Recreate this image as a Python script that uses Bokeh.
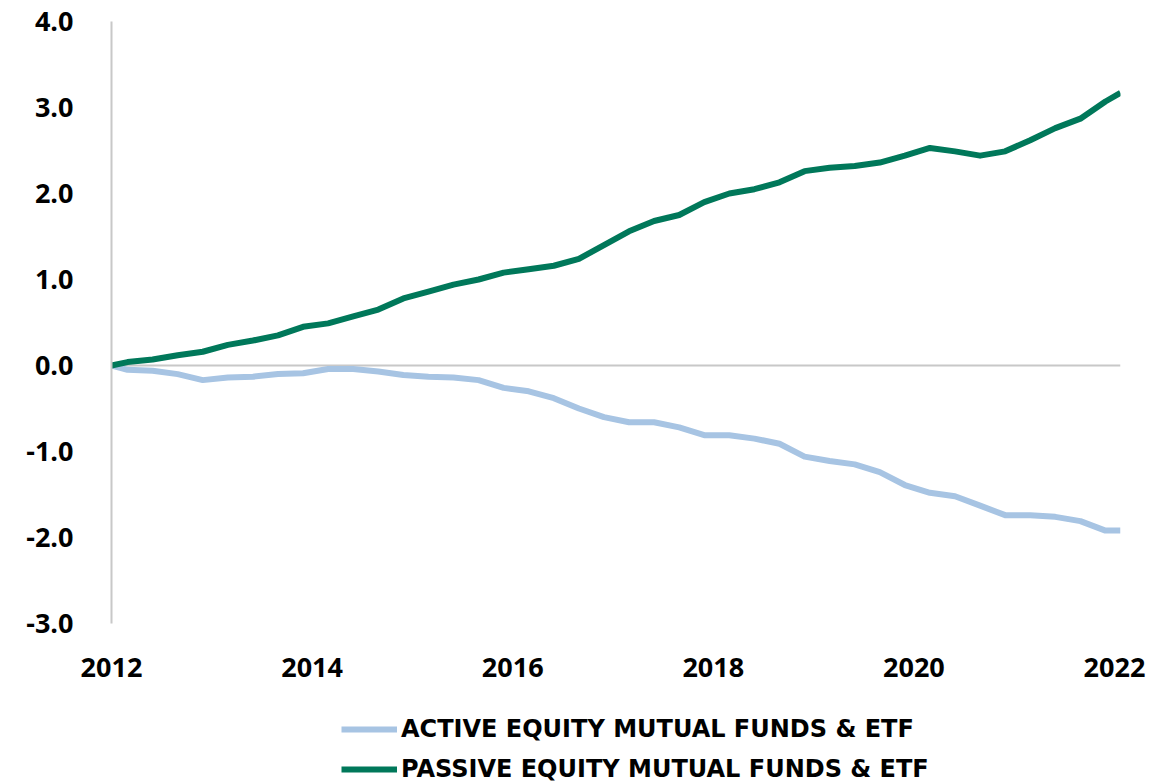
from bokeh.plotting import figure
from bokeh.models import Span, Legend, LegendItem, FixedTicker
from bokeh.layouts import column
from bokeh.embed import file_html
from bokeh.resources import INLINE

# time positions (decimal years): start point, quarterly observations, last point
x_years = [2012.0] + [round(2012.16 + 0.25 * i, 2) for i in range(40)] + [2022.06]

passive = [0, 0.04, 0.07, 0.12, 0.16, 0.24, 0.29, 0.35, 0.45, 0.49, 0.57, 0.65,
           0.78, 0.86, 0.94, 1.00, 1.08, 1.12, 1.16, 1.24, 1.40, 1.56, 1.68, 1.75,
           1.90, 2.00, 2.05, 2.13, 2.26, 2.30, 2.32, 2.36, 2.44, 2.53, 2.49, 2.44,
           2.49, 2.62, 2.76, 2.87, 3.07, 3.17]

active = [0, -0.05, -0.06, -0.10, -0.17, -0.14, -0.13, -0.10, -0.09, -0.04, -0.04,
          -0.07, -0.11, -0.13, -0.14, -0.17, -0.26, -0.30, -0.38, -0.50, -0.60,
          -0.66, -0.66, -0.72, -0.81, -0.81, -0.85, -0.91, -1.06, -1.11, -1.15,
          -1.24, -1.39, -1.48, -1.52, -1.63, -1.74, -1.74, -1.76, -1.81, -1.92, -1.92]

series_names = ["ACTIVE EQUITY MUTUAL FUNDS & ETF", "PASSIVE EQUITY MUTUAL FUNDS & ETF"]

x_ticks = [2012, 2014, 2016, 2018, 2020, 2022]
x_tick_labels = ["2012", "2014", "2016", "2018", "2020", "2022"]
y_ticks = [-3, -2, -1, 0, 1, 2, 3, 4]
y_tick_labels = ["-3.0", "-2.0", "-1.0", "0.0", "1.0", "2.0", "3.0", "4.0"]

GREEN = "#00785A"
BLUE = "#A7C4E3"
GRAY = "#C8C8C8"
FONT = "Open Sans"

p = figure(width=1175, height=700, output_backend="svg", toolbar_location=None,
           x_range=(x_years[0], x_years[-1]), y_range=(y_ticks[0], y_ticks[-1]),
           min_border_left=111, min_border_right=55, min_border_top=21,
           min_border_bottom=77, outline_line_color=None)

p.xgrid.visible = False
p.ygrid.visible = False

zero = Span(location=0, dimension="width", line_color=GRAY, line_width=2, level="underlay")
p.add_layout(zero)

p.line(x_years, active, line_color=BLUE, line_width=6, line_join="round")
p.line(x_years, passive, line_color=GREEN, line_width=6, line_join="round")

p.xaxis.ticker = FixedTicker(ticks=x_ticks)
p.xaxis.major_label_overrides = dict(zip(x_ticks, x_tick_labels))
p.yaxis.ticker = FixedTicker(ticks=y_ticks)
p.yaxis.major_label_overrides = dict(zip(y_ticks, y_tick_labels))

for ax in (p.xaxis, p.yaxis):
    ax.major_tick_line_color = None
    ax.minor_tick_line_color = None
    ax.major_label_text_font = FONT
    ax.major_label_text_font_style = "bold"
    ax.major_label_text_font_size = "27px"
    ax.major_label_text_color = "#000000"

p.xaxis.axis_line_color = None
p.xaxis.major_label_standoff = 28
p.yaxis.axis_line_color = GRAY
p.yaxis.axis_line_width = 2
p.yaxis.major_label_standoff = 32

# legend panel below the chart (legend proxies use the same data, kept off-frame)
pl = figure(width=1175, height=84, output_backend="svg", toolbar_location=None,
            x_axis_type=None, y_axis_type=None, min_border=0,
            outline_line_color=None, x_range=(0, 1), y_range=(10, 11))
pl.xgrid.visible = False
pl.ygrid.visible = False
la = pl.line(x_years, active, line_color=BLUE, line_width=6)
lp = pl.line(x_years, passive, line_color=GREEN, line_width=6)

legend = Legend(items=[LegendItem(label=series_names[0], renderers=[la]),
                       LegendItem(label=series_names[1], renderers=[lp])],
                location=(230, -5), orientation="vertical",
                border_line_color=None, background_fill_alpha=0,
                padding=0, margin=0, spacing=0,
                glyph_width=56, glyph_height=40, label_height=40,
                label_standoff=4,
                label_text_font="DejaVu Sans", label_text_font_style="bold",
                label_text_font_size="24px", label_text_color="#000000")
pl.add_layout(legend, "center")

open("out.html", "w").write(file_html(column(p, pl), INLINE))
